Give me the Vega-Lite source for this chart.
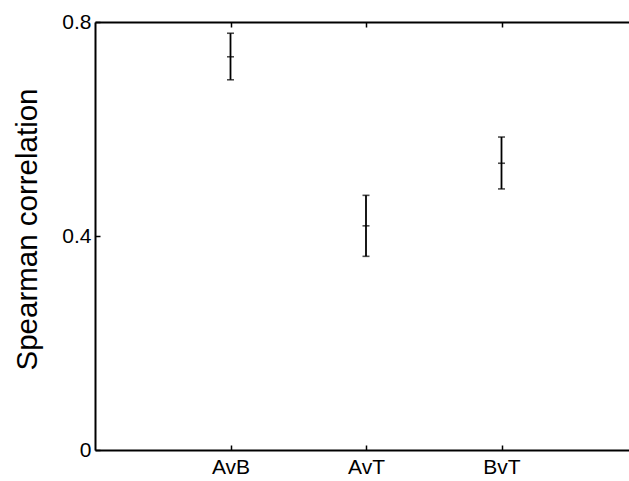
{
  "$schema": "https://vega.github.io/schema/vega-lite/v6.json",
  "width": 534,
  "height": 428,
  "autosize": {"type": "none"},
  "padding": {"left": 95, "top": 22, "right": 0, "bottom": 31},
  "background": "white",
  "config": {
    "view": {"stroke": null},
    "font": "Liberation Sans",
    "axis": {
      "grid": false,
      "domainColor": "black",
      "domainWidth": 2,
      "tickColor": "black",
      "tickWidth": 1.5,
      "tickSize": -5,
      "labelColor": "black",
      "labelFont": "Liberation Sans",
      "titleColor": "black",
      "titleFont": "Liberation Sans",
      "titleFontWeight": "normal"
    }
  },
  "data": {
    "values": [
      {"pair": "AvB", "mean": 0.735, "lo": 0.692, "hi": 0.779},
      {"pair": "AvT", "mean": 0.419, "lo": 0.362, "hi": 0.476},
      {"pair": "BvT", "mean": 0.536, "lo": 0.488, "hi": 0.585}
    ]
  },
  "resolve": {"axis": {"x": "independent"}},
  "layer": [
    {
      "mark": {"type": "rule", "color": "black", "strokeWidth": 1.8},
      "encoding": {
        "x": {
          "field": "pair", "type": "nominal", "sort": null,
          "scale": {"type": "point", "padding": 1, "range": [0, 542]},
          "axis": {"orient": "bottom", "title": null, "labelAngle": 0, "labelFontSize": 21, "labelPadding": 11}
        },
        "y": {
          "field": "lo", "type": "quantitative",
          "scale": {"domain": [0, 0.8], "nice": false},
          "axis": {"values": [0, 0.4, 0.8], "format": "~g", "labelFontSize": 21, "labelPadding": 9,
                   "title": "Spearman correlation", "titleFontSize": 29.5, "titlePadding": 19, "titleY": 207}
        },
        "y2": {"field": "hi"}
      }
    },
    {
      "mark": {"type": "tick", "color": "black", "size": 7, "thickness": 1.6},
      "encoding": {
        "x": {"field": "pair", "type": "nominal", "sort": null, "axis": null},
        "y": {"field": "lo", "type": "quantitative", "title": "Spearman correlation"}
      }
    },
    {
      "mark": {"type": "tick", "color": "black", "size": 7, "thickness": 1.6},
      "encoding": {
        "x": {"field": "pair", "type": "nominal", "sort": null, "axis": null},
        "y": {"field": "hi", "type": "quantitative", "title": "Spearman correlation"}
      }
    },
    {
      "mark": {"type": "tick", "color": "black", "size": 7, "thickness": 1.6},
      "encoding": {
        "x": {
          "field": "pair", "type": "nominal", "sort": null,
          "axis": {"orient": "top", "title": null, "labels": false}
        },
        "y": {"field": "mean", "type": "quantitative", "title": "Spearman correlation"}
      }
    }
  ]
}
